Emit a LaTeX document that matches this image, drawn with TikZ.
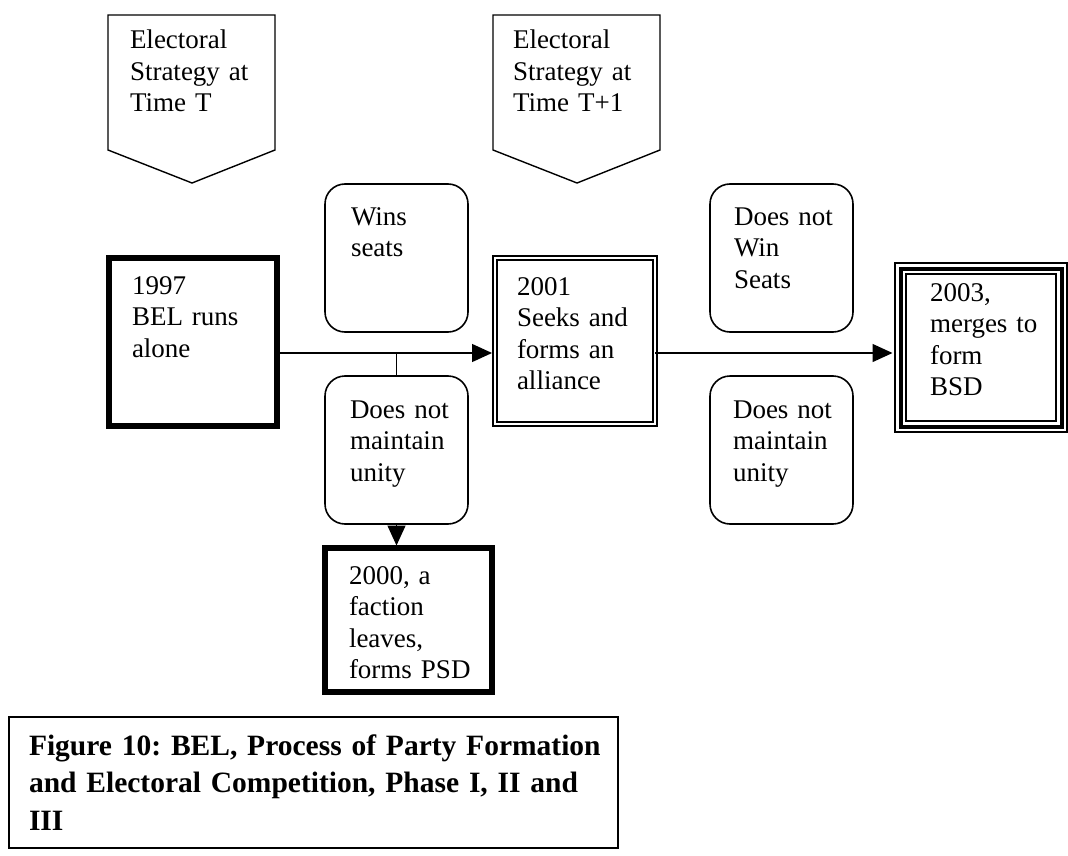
\documentclass[tikz,border=0pt]{standalone}
\usepackage{fontspec}
\setmainfont{Liberation Serif}
\usetikzlibrary{arrows.meta,calc}
\frenchspacing
\newcommand\bodyfont{\fontsize{27}{31.5}\selectfont}
\newcommand\capfont{\fontsize{29.5}{37.5}\selectfont\bfseries}
\begin{document}
\begin{tikzpicture}[x=1pt,y=-1pt,
  every node/.style={inner sep=0pt,outer sep=0pt},
  txt/.style={anchor=base west,text width=170pt,align=left,font=\bodyfont},
  captxt/.style={anchor=base west,text width=600pt,align=left,font=\capfont},
  choice/.style={draw,line width=1.6pt,rounded corners=20pt,minimum width=143pt,minimum height=148pt},
  thickbox/.style={draw,line width=5.5pt},
  dblbox/.style={draw,double,line width=2pt,double distance=2.5pt},
  triplebox/.style={draw,line width=4pt},
  thinframe/.style={draw,line width=1.5pt},
  strat/.style={draw,line width=1.4pt,line join=miter},
  conn/.style={line width=1.4pt},
  arr/.style={conn,-{Triangle[length=20pt,width=18pt]}}]
\fill[white] (0,0) rectangle (1068,856);
\useasboundingbox (0,0) rectangle (1068,856);

% strategy banners
\draw[strat] (108,15) -- (275,15) -- (275,150) -- (192,183) -- (108,150) -- cycle;
\node[txt] (stratT) at (130,49) {Electoral\\Strategy at\\Time T};
\draw[strat] (493,15) -- (660,15) -- (660,150) -- (577,183) -- (493,150) -- cycle;
\node[txt] (stratT1) at (513,49) {Electoral\\Strategy at\\Time T+1};

% outcome boxes
\node[choice] (wins)  at (396.5,258) {};
\node[txt] (winsT) at (351,225) {Wins\\seats};
\node[choice] (lu)    at (396.5,450) {};
\node[txt] (luT) at (350,418) {Does not\\maintain\\unity};
\node[choice] (nowin) at (781.5,258) {};
\node[txt] (nowinT) at (734,225) {Does not\\Win\\Seats};
\node[choice] (ru)    at (781.5,450) {};
\node[txt] (ruT) at (733,418) {Does not\\maintain\\unity};

% events
\node[thickbox,minimum width=168pt,minimum height=168pt] (y1997) at (193,342) {};
\node[txt] (y1997T) at (132,294) {1997\\BEL runs\\alone};

\node[dblbox,minimum width=160pt,minimum height=166pt] (y2001) at (575,341) {};
\node[txt] (y2001T) at (517,295) {2001\\Seeks and\\forms an\\alliance};

\node[triplebox,minimum width=161pt,minimum height=158pt] (y2003) at (981,347.5) {};
\draw[thinframe] ($(y2003.north west)+(-5.5,-5.5)$) rectangle ($(y2003.south east)+(5.5,5.5)$);
\draw[thinframe] ($(y2003.north west)+(5.5,5.5)$) rectangle ($(y2003.south east)+(-5.5,-5.5)$);
\node[txt] (y2003T) at (930,301) {2003,\\merges to\\form\\BSD};

\node[thickbox,minimum width=167pt,minimum height=144pt] (y2000) at (408.5,620) {};
\node[txt] (y2000T) at (349,584) {2000, a\\faction\\leaves,\\forms PSD};

% connectors
\coordinate (lineY) at (0,353);
\coordinate (junc) at (lu.north |- lineY);
\draw[arr,shorten >=3pt] (y1997.east |- lineY) -- (y2001.west |- lineY);
\draw[conn] (junc) -- (lu.north);
\draw[arr,shorten >=2.5pt] (lu.south) -- (lu.south |- y2000.north);
\draw[arr,shorten >=8pt] (y2001.east |- lineY) -- (y2003.west |- lineY);

% caption
\node[draw,line width=1.4pt,minimum width=609pt,minimum height=131pt] (cap) at (313.5,782.5) {};
\node[captxt] (capT) at (29,755) {Figure 10: BEL, Process of Party Formation\\and Electoral Competition, Phase I, II and\\III};
\end{tikzpicture}
\end{document}
